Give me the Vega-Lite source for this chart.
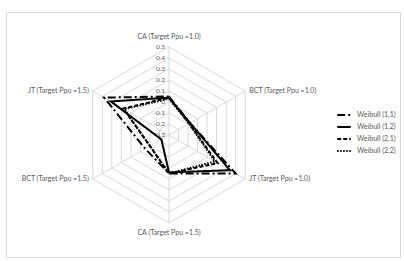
{
  "$schema": "https://vega.github.io/schema/vega-lite/v6.json",
  "width": 394,
  "height": 245,
  "autosize": {"type": "none"},
  "padding": {"left": 6, "top": 12, "right": 4, "bottom": 4},
  "background": "white",
  "config": {"view": {"stroke": "#d9d9d9", "strokeWidth": 1}, "font": "Lato"},
  "datasets": {
    "series": [
      {"series": "Weibull (1,1)", "axis": "CA (Target Ppu =1.0)", "idx": 0, "value": 0.05},
      {"series": "Weibull (1,1)", "axis": "BCT (Target Ppu =1.0)", "idx": 1, "value": -0.08},
      {"series": "Weibull (1,1)", "axis": "JT  (Target Ppu =1.0)", "idx": 2, "value": 0.40},
      {"series": "Weibull (1,1)", "axis": "CA (Target Ppu =1.5)", "idx": 3, "value": 0.05},
      {"series": "Weibull (1,1)", "axis": "BCT (Target Ppu =1.5)", "idx": 4, "value": -0.05},
      {"series": "Weibull (1,1)", "axis": "JT  (Target Ppu =1.5)", "idx": 5, "value": 0.38},
      {"series": "Weibull (1,2)", "axis": "CA (Target Ppu =1.0)", "idx": 0, "value": 0.04},
      {"series": "Weibull (1,2)", "axis": "BCT (Target Ppu =1.0)", "idx": 1, "value": -0.08},
      {"series": "Weibull (1,2)", "axis": "JT  (Target Ppu =1.0)", "idx": 2, "value": 0.34},
      {"series": "Weibull (1,2)", "axis": "CA (Target Ppu =1.5)", "idx": 3, "value": 0.04},
      {"series": "Weibull (1,2)", "axis": "BCT (Target Ppu =1.5)", "idx": 4, "value": -0.22},
      {"series": "Weibull (1,2)", "axis": "JT  (Target Ppu =1.5)", "idx": 5, "value": 0.31},
      {"series": "Weibull (2,1)", "axis": "CA (Target Ppu =1.0)", "idx": 0, "value": 0.04},
      {"series": "Weibull (2,1)", "axis": "BCT (Target Ppu =1.0)", "idx": 1, "value": -0.09},
      {"series": "Weibull (2,1)", "axis": "JT  (Target Ppu =1.0)", "idx": 2, "value": 0.21},
      {"series": "Weibull (2,1)", "axis": "CA (Target Ppu =1.5)", "idx": 3, "value": 0.05},
      {"series": "Weibull (2,1)", "axis": "BCT (Target Ppu =1.5)", "idx": 4, "value": -0.10},
      {"series": "Weibull (2,1)", "axis": "JT  (Target Ppu =1.5)", "idx": 5, "value": 0.18},
      {"series": "Weibull (2,2)", "axis": "CA (Target Ppu =1.0)", "idx": 0, "value": 0.03},
      {"series": "Weibull (2,2)", "axis": "BCT (Target Ppu =1.0)", "idx": 1, "value": -0.09},
      {"series": "Weibull (2,2)", "axis": "JT  (Target Ppu =1.0)", "idx": 2, "value": 0.18},
      {"series": "Weibull (2,2)", "axis": "CA (Target Ppu =1.5)", "idx": 3, "value": 0.05},
      {"series": "Weibull (2,2)", "axis": "BCT (Target Ppu =1.5)", "idx": 4, "value": -0.10},
      {"series": "Weibull (2,2)", "axis": "JT  (Target Ppu =1.5)", "idx": 5, "value": 0.17}
    ],
    "axes": [
      {"axis": "CA (Target Ppu =1.0)", "idx": 0, "side": "center"},
      {"axis": "BCT (Target Ppu =1.0)", "idx": 1, "side": "right"},
      {"axis": "JT  (Target Ppu =1.0)", "idx": 2, "side": "right"},
      {"axis": "CA (Target Ppu =1.5)", "idx": 3, "side": "center"},
      {"axis": "BCT (Target Ppu =1.5)", "idx": 4, "side": "left"},
      {"axis": "JT  (Target Ppu =1.5)", "idx": 5, "side": "left"}
    ],
    "ticks": [
      {"tick": 0.5, "label": "0.5", "pos": [0, 1, 2, 3, 4, 5]},
      {"tick": 0.4, "label": "0.4", "pos": [0, 1, 2, 3, 4, 5]},
      {"tick": 0.3, "label": "0.3", "pos": [0, 1, 2, 3, 4, 5]},
      {"tick": 0.2, "label": "0.2", "pos": [0, 1, 2, 3, 4, 5]},
      {"tick": 0.1, "label": "0.1", "pos": [0, 1, 2, 3, 4, 5]},
      {"tick": 0.0, "label": "0", "pos": [0, 1, 2, 3, 4, 5]},
      {"tick": -0.1, "label": "-0.1", "pos": [0, 1, 2, 3, 4, 5]},
      {"tick": -0.2, "label": "-0.2", "pos": [0, 1, 2, 3, 4, 5]},
      {"tick": -0.3, "label": "-0.3", "pos": [0, 1, 2, 3, 4, 5]}
    ]
  },
  "layer": [
    {
      "data": {"name": "ticks"},
      "transform": [
        {"filter": "datum.tick > -0.25"},
        {"flatten": ["pos"]},
        {"calculate": "(datum.tick + 0.3) * sin(datum.pos * PI / 3)", "as": "gx"},
        {"calculate": "(datum.tick + 0.3) * cos(datum.pos * PI / 3)", "as": "gy"}
      ],
      "mark": {"type": "line", "interpolate": "linear-closed", "stroke": "#d9d9d9", "strokeWidth": 1},
      "encoding": {
        "x": {"field": "gx", "type": "quantitative", "scale": {"domain": [-1.4818, 2.1], "nice": false, "zero": false}, "axis": null},
        "y": {"field": "gy", "type": "quantitative", "scale": {"domain": [-1.109, 1.1182], "nice": false, "zero": false}, "axis": null},
        "detail": {"field": "tick", "type": "nominal"},
        "order": {"field": "pos", "type": "quantitative"}
      }
    },
    {
      "data": {"name": "axes"},
      "transform": [
        {"calculate": "0.8 * sin(datum.idx * PI / 3)", "as": "ex"},
        {"calculate": "0.8 * cos(datum.idx * PI / 3)", "as": "ey"},
        {"calculate": "0", "as": "zero"}
      ],
      "mark": {"type": "rule", "stroke": "#d9d9d9", "strokeWidth": 1},
      "encoding": {
        "x": {"field": "ex", "type": "quantitative", "scale": {"domain": [-1.4818, 2.1], "nice": false, "zero": false}, "axis": null},
        "y": {"field": "ey", "type": "quantitative", "scale": {"domain": [-1.109, 1.1182], "nice": false, "zero": false}, "axis": null},
        "x2": {"field": "zero"},
        "y2": {"field": "zero"}
      }
    },
    {
      "data": {"name": "ticks"},
      "transform": [
        {"calculate": "datum.tick + 0.3", "as": "ty"},
        {"calculate": "0", "as": "zero"}
      ],
      "mark": {"type": "text", "align": "right", "baseline": "middle", "dx": -4, "fontSize": 6.5, "color": "#595959"},
      "encoding": {
        "x": {"field": "zero", "type": "quantitative", "scale": {"domain": [-1.4818, 2.1], "nice": false, "zero": false}, "axis": null},
        "y": {"field": "ty", "type": "quantitative", "scale": {"domain": [-1.109, 1.1182], "nice": false, "zero": false}, "axis": null},
        "text": {"field": "label"}
      }
    },
    {
      "data": {"name": "series"},
      "transform": [
        {"calculate": "(datum.value + 0.3) * sin(datum.idx * PI / 3)", "as": "px"},
        {"calculate": "(datum.value + 0.3) * cos(datum.idx * PI / 3)", "as": "py"}
      ],
      "mark": {"type": "line", "interpolate": "linear-closed", "stroke": "black", "strokeWidth": 2},
      "encoding": {
        "x": {"field": "px", "type": "quantitative", "scale": {"domain": [-1.4818, 2.1], "nice": false, "zero": false}, "axis": null},
        "y": {"field": "py", "type": "quantitative", "scale": {"domain": [-1.109, 1.1182], "nice": false, "zero": false}, "axis": null},
        "order": {"field": "idx", "type": "quantitative"},
        "strokeDash": {
          "field": "series",
          "type": "nominal",
          "scale": {
            "domain": ["Weibull (1,1)", "Weibull (1,2)", "Weibull (2,1)", "Weibull (2,2)"],
            "range": [[8, 3, 2, 3], [1, 0], [4, 2], [1.5, 1.5]]
          },
          "legend": {
            "title": null,
            "orient": "none",
            "legendX": 330,
            "legendY": 95,
            "padding": 0,
            "symbolType": "stroke",
            "symbolStrokeColor": "black",
            "symbolStrokeWidth": 2,
            "symbolSize": 185,
            "labelFontSize": 7,
            "labelColor": "#595959",
            "labelOffset": 5,
            "rowPadding": 0
          }
        }
      }
    },
    {
      "data": {"name": "axes"},
      "transform": [
        {"filter": "datum.side == 'center'"},
        {"calculate": "0.89 * sin(datum.idx * PI / 3)", "as": "lx"},
        {"calculate": "0.89 * cos(datum.idx * PI / 3)", "as": "ly"}
      ],
      "mark": {"type": "text", "align": "center", "baseline": "middle", "fontSize": 7, "color": "#595959"},
      "encoding": {
        "x": {"field": "lx", "type": "quantitative", "scale": {"domain": [-1.4818, 2.1], "nice": false, "zero": false}, "axis": null},
        "y": {"field": "ly", "type": "quantitative", "scale": {"domain": [-1.109, 1.1182], "nice": false, "zero": false}, "axis": null},
        "text": {"field": "axis"}
      }
    },
    {
      "data": {"name": "axes"},
      "transform": [
        {"filter": "datum.side == 'right'"},
        {"calculate": "0.8 * sin(datum.idx * PI / 3)", "as": "lx"},
        {"calculate": "0.8 * cos(datum.idx * PI / 3)", "as": "ly"}
      ],
      "mark": {"type": "text", "align": "left", "baseline": "middle", "dx": 4, "fontSize": 7, "color": "#595959"},
      "encoding": {
        "x": {"field": "lx", "type": "quantitative", "scale": {"domain": [-1.4818, 2.1], "nice": false, "zero": false}, "axis": null},
        "y": {"field": "ly", "type": "quantitative", "scale": {"domain": [-1.109, 1.1182], "nice": false, "zero": false}, "axis": null},
        "text": {"field": "axis"}
      }
    },
    {
      "data": {"name": "axes"},
      "transform": [
        {"filter": "datum.side == 'left'"},
        {"calculate": "0.8 * sin(datum.idx * PI / 3)", "as": "lx"},
        {"calculate": "0.8 * cos(datum.idx * PI / 3)", "as": "ly"}
      ],
      "mark": {"type": "text", "align": "right", "baseline": "middle", "dx": -4, "fontSize": 7, "color": "#595959"},
      "encoding": {
        "x": {"field": "lx", "type": "quantitative", "scale": {"domain": [-1.4818, 2.1], "nice": false, "zero": false}, "axis": null},
        "y": {"field": "ly", "type": "quantitative", "scale": {"domain": [-1.109, 1.1182], "nice": false, "zero": false}, "axis": null},
        "text": {"field": "axis"}
      }
    }
  ]
}
